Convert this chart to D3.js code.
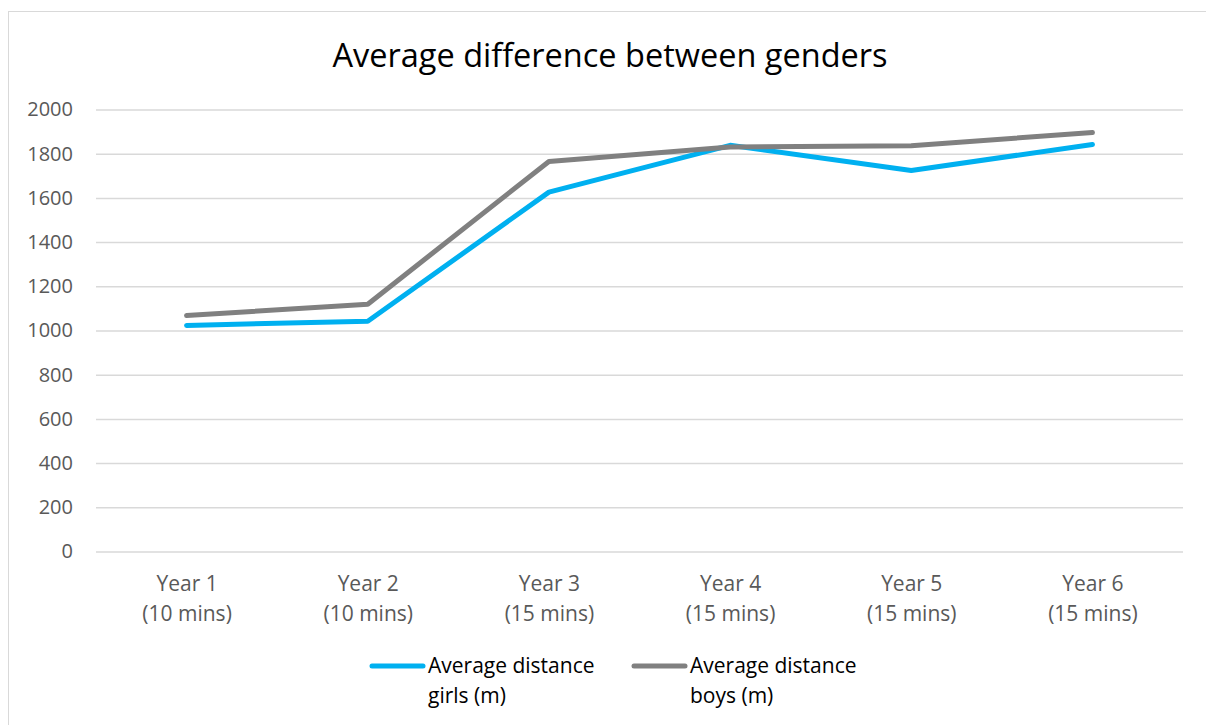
<!DOCTYPE html>
<html>
<head>
<meta charset="utf-8">
<script src="https://cdn.jsdelivr.net/npm/d3@7"></script>
<style>
  html, body { margin: 0; padding: 0; background: #fff; }
  svg { display: block; }
  text { font-family: "Open Sans", Lato, sans-serif; }
</style>
</head>
<body>
<svg id="chart" width="1206" height="725"></svg>
<script>
// Categories (two-line labels) and series values
const yearLabels = ["Year 1", "Year 2", "Year 3", "Year 4", "Year 5", "Year 6"];
const durationLabels = ["(10 mins)", "(10 mins)", "(15 mins)", "(15 mins)", "(15 mins)", "(15 mins)"];
const girlsDistance = [1023, 1042, 1626, 1838, 1724, 1842];
const boysDistance = [1068, 1119, 1765, 1830, 1836, 1896];
const yTicks = [0, 200, 400, 600, 800, 1000, 1200, 1400, 1600, 1800, 2000];
const seriesNames = [["Average distance", "girls (m)"], ["Average distance", "boys (m)"]];
const seriesColors = ["#00B0F0", "#808080"];

const svg = d3.select("#chart");

// Outer chart frame
svg.append("rect")
  .attr("x", 8.5).attr("y", 11.5)
  .attr("width", 1210).attr("height", 730)
  .attr("fill", "#fff").attr("stroke", "#D9D9D9").attr("stroke-width", 1);

const plotLeft = 96, plotRight = 1183, plotTop = 109.5, plotBottom = 551.5;

const x = d3.scalePoint()
  .domain(d3.range(yearLabels.length))
  .range([plotLeft, plotRight])
  .padding(0.5);

const y = d3.scaleLinear().domain([0, 2000]).range([plotBottom, plotTop]);

// Title
svg.append("text")
  .attr("x", 610).attr("y", 67)
  .attr("text-anchor", "middle")
  .attr("font-size", 32.5)
  .attr("fill", "#000")
  .text("Average difference between genders");

// Gridlines and y labels
const yAxis = d3.axisLeft(y)
  .tickValues(yTicks)
  .tickFormat(d3.format("d"))
  .tickSize(-(plotRight - plotLeft))
  .tickPadding(23);
const gy = svg.append("g").attr("transform", `translate(${plotLeft},0)`).call(yAxis);
gy.select(".domain").remove();
gy.selectAll(".tick line").attr("stroke", "#D9D9D9").attr("stroke-width", 1.5);
gy.selectAll(".tick text")
  .attr("font-size", 20).attr("fill", "#595959")
  .attr("font-family", "'Open Sans', Lato, sans-serif");

// Category labels (two lines)
const xAxis = d3.axisBottom(x).tickSize(0).tickFormat(() => "");
const gx = svg.append("g").attr("transform", `translate(0,${plotBottom})`).call(xAxis);
gx.select(".domain").remove();
gx.selectAll(".tick").each(function(d) {
  const t = d3.select(this).append("text")
    .attr("text-anchor", "middle")
    .attr("font-size", 21).attr("fill", "#595959");
  t.append("tspan").attr("x", 0).attr("y", 39).text(yearLabels[d]);
  t.append("tspan").attr("x", 0).attr("y", 69).text(durationLabels[d]);
});

// Series lines
const line = d3.line().x((d, i) => x(i)).y(d => y(d));
[girlsDistance, boysDistance].forEach((vals, k) => {
  svg.append("path")
    .datum(vals)
    .attr("d", line)
    .attr("fill", "none")
    .attr("stroke", seriesColors[k])
    .attr("stroke-width", 5)
    .attr("stroke-linejoin", "round")
    .attr("stroke-linecap", "round");
});

// Legend
const legendX = [370, 632];
seriesNames.forEach((name, k) => {
  const g = svg.append("g").attr("transform", `translate(${legendX[k]},666)`);
  g.append("line")
    .attr("x1", 2).attr("x2", 53).attr("y1", 0).attr("y2", 0)
    .attr("stroke", seriesColors[k]).attr("stroke-width", 5)
    .attr("stroke-linecap", "round");
  const t = g.append("text").attr("font-size", 21).attr("fill", "#000");
  t.append("tspan").attr("x", 58).attr("y", 7).text(name[0]);
  t.append("tspan").attr("x", 58).attr("y", 37).text(name[1]);
});
</script>
</body>
</html>
